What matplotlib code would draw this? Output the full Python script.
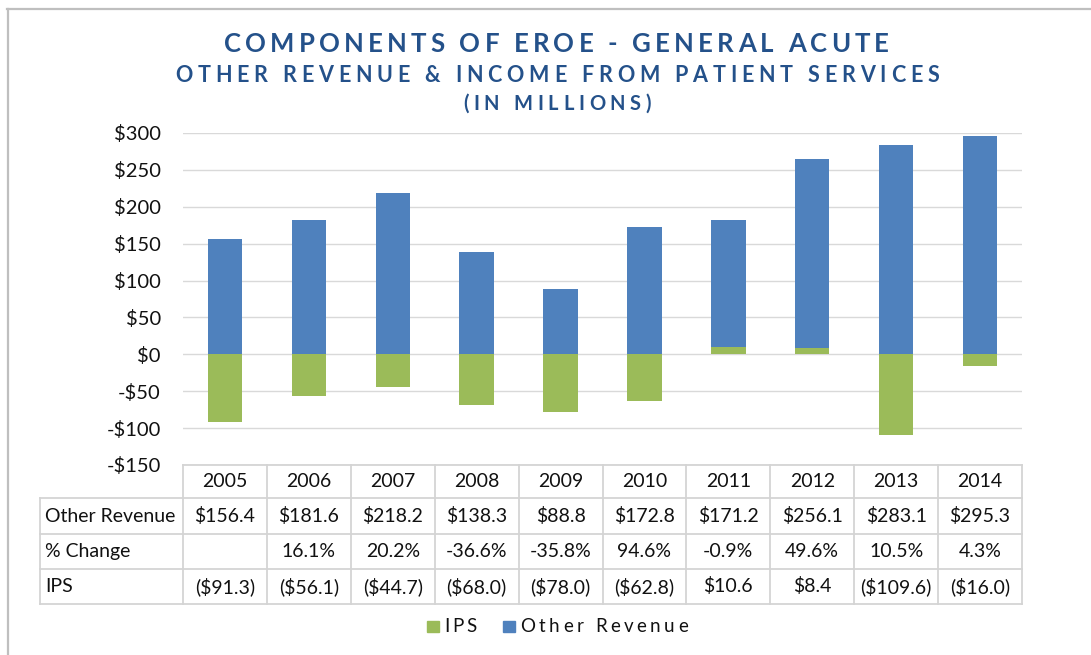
import numpy as np
import matplotlib
matplotlib.use('Agg')
import matplotlib.pyplot as plt
from matplotlib.lines import Line2D
from matplotlib.patches import Rectangle
from matplotlib.font_manager import FontProperties

# ---- data (in millions) ----
years = ['2005', '2006', '2007', '2008', '2009', '2010', '2011', '2012', '2013', '2014']
other_revenue = [156.4, 181.6, 218.2, 138.3, 88.8, 172.8, 171.2, 256.1, 283.1, 295.3]
pct_change = [None, 16.1, 20.2, -36.6, -35.8, 94.6, -0.9, 49.6, 10.5, 4.3]
ips = [-91.3, -56.1, -44.7, -68.0, -78.0, -62.8, 10.6, 8.4, -109.6, -16.0]
y_ticks = [-150, -100, -50, 0, 50, 100, 150, 200, 250, 300]

W, H, DPI = 1091, 655, 100
FONT = ['Lato', 'DejaVu Sans']
BLUE = '#4F81BD'
GREEN = '#9BBB59'
TITLE_C = '#24518A'
GRID_C = '#D9D9D9'
TXT_C = '#111111'
FS_TICK = 14.5
FS_TABLE = 14

plt.rcParams['font.family'] = FONT

fig = plt.figure(figsize=(W / DPI, H / DPI), dpi=DPI)
renderer = fig.canvas.get_renderer()


def fx(px):
    return px / W


def fy(py):
    return 1 - py / H


def advance(c, fp):
    # glyph advance in px, measured between two bars so spaces count too
    w2 = renderer.get_text_width_height_descent('||', fp, ismath=False)[0]
    w3 = renderer.get_text_width_height_descent('|' + c + '|', fp, ismath=False)[0]
    return w3 - w2


def spaced_text(x0, x1, y, s, size, color, weight='normal'):
    # letter-spaced line spanning pixels x0..x1, centred vertically at y
    fp = FontProperties(family=FONT, size=size, weight=weight)
    adv = [advance(c, fp) for c in s]
    sp = (x1 - x0 - sum(adv)) / (len(s) - 1)
    x = x0
    for c, a in zip(s, adv):
        if c != ' ':
            fig.text(fx(x + a / 2), fy(y), c, ha='center', va='center',
                     fontproperties=fp, color=color)
        x += a + sp


# ---- outer chart border ----
fig.add_artist(Line2D([fx(7.5), fx(7.5)], [fy(9), fy(H + 5)], color='#BFBFBF', lw=1.6))
fig.add_artist(Line2D([fx(6.5), fx(W + 5)], [fy(9), fy(9)], color='#BFBFBF', lw=1.6))

# ---- titles ----
spaced_text(224, 889, 44, 'COMPONENTS OF EROE - GENERAL ACUTE', 18.5, TITLE_C, 'bold')
spaced_text(175, 939, 75.5, 'OTHER REVENUE & INCOME FROM PATIENT SERVICES', 15.5, TITLE_C, 'bold')
spaced_text(463, 651, 103.5, '(IN MILLIONS)', 14.5, TITLE_C, 'bold')

# ---- bars ----
ax = fig.add_axes([fx(183), fy(465), fx(1022) - fx(183), fy(133) - fy(465)])
x = np.arange(len(years))
ips_arr = np.array(ips)
ax.bar(x, ips_arr, width=0.41, color=GREEN, zorder=2)
ax.bar(x, other_revenue, width=0.41, bottom=np.clip(ips_arr, 0, None), color=BLUE, zorder=2)

ax.set_xlim(-0.5, len(years) - 0.5)
ax.set_ylim(-150, 300)
ax.set_yticks(y_ticks)
ax.set_yticklabels([('-$%d' % -v) if v < 0 else ('$%d' % v) for v in y_ticks])
ax.set_xticks([])
ax.tick_params(axis='y', length=0, pad=16, labelsize=FS_TICK, labelcolor=TXT_C)
ax.yaxis.grid(True, color=GRID_C, lw=1.0)
ax.set_axisbelow(True)
for s in ax.spines.values():
    s.set_visible(False)

# ---- data table under the chart ----
to_px = ax.transData
col_px = [to_px.transform((i - 0.5, 0))[0] for i in range(len(years) + 1)]
row_py = [465, 498, 534, 569, 604]
label_x = 40
TBL_C = '#D4D4D4'
tlw = 1.3

fig.add_artist(Line2D([fx(col_px[0]), fx(col_px[-1])], [fy(row_py[0])] * 2, color=TBL_C, lw=tlw))
for py in row_py[1:]:
    fig.add_artist(Line2D([fx(label_x), fx(col_px[-1])], [fy(py)] * 2, color=TBL_C, lw=tlw))
for cx in col_px:
    fig.add_artist(Line2D([fx(cx)] * 2, [fy(row_py[0]), fy(row_py[-1])], color=TBL_C, lw=tlw))
fig.add_artist(Line2D([fx(label_x)] * 2, [fy(row_py[1]), fy(row_py[-1])], color=TBL_C, lw=tlw))


def money(v):
    return '($%.1f)' % -v if v < 0 else '$%.1f' % v


rows = [
    ('', years),
    ('Other Revenue', [money(v) for v in other_revenue]),
    ('% Change', ['' if v is None else '%.1f%%' % v for v in pct_change]),
    ('IPS', [money(v) for v in ips]),
]
for r, (label, cells) in enumerate(rows):
    yc = (row_py[r] + row_py[r + 1]) / 2
    if label:
        fig.text(fx(label_x + 5), fy(yc), label, ha='left', va='center', fontsize=FS_TABLE, color=TXT_C)
    for i, s in enumerate(cells):
        fig.text(fx((col_px[i] + col_px[i + 1]) / 2), fy(yc), s, ha='center', va='center',
                 fontsize=FS_TABLE, color=TXT_C)

# ---- legend ----
fig.add_artist(Rectangle((fx(427), fy(632)), fx(12), fy(621) - fy(632), color=GREEN,
                         transform=fig.transFigure))
spaced_text(444, 477, 627, 'IPS', 13.5, TXT_C)
fig.add_artist(Rectangle((fx(503), fy(632)), fx(12), fy(621) - fy(632), color=BLUE,
                         transform=fig.transFigure))
spaced_text(520, 688, 627, 'Other Revenue', 13.5, TXT_C)

fig.savefig('out.png', dpi=DPI)
